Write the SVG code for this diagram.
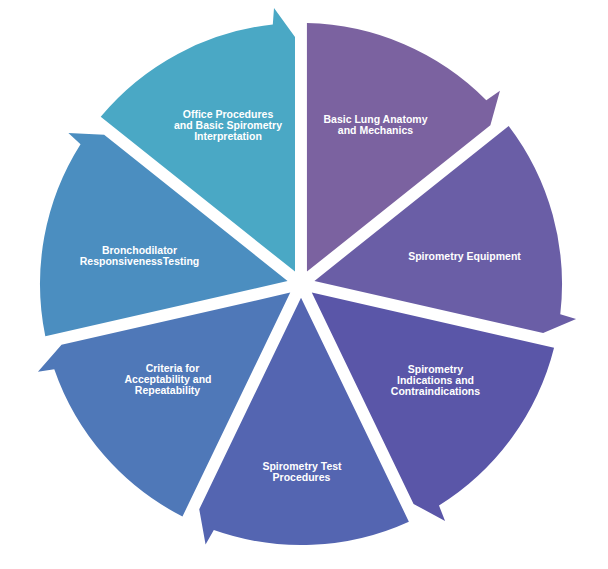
<svg xmlns="http://www.w3.org/2000/svg" width="608" height="569" viewBox="0 0 608 569">
  <style>
    .lbl { font-family: "Liberation Sans", Arial, sans-serif; font-weight: bold; font-size: 10.5px; fill: #ffffff; text-anchor: middle; }
  </style>
  <defs>
    <path id="wedge" d="M -200.3,-167.3 A 261 261 0 0 1 -28.2,-259.5 L -27,-276 L -6,-247 L -6,-12.4 Z"/>
  </defs>
  <rect width="608" height="569" fill="#ffffff"/>

  <g id="office">
    <use href="#wedge" transform="translate(301,284)" fill="#4aa8c5"/>
    <text class="lbl"><tspan x="228" y="118">Office Procedures</tspan><tspan x="228" y="129">and Basic Spirometry</tspan><tspan x="228" y="140">Interpretation</tspan></text>
  </g>
  <g id="lung">
    <use href="#wedge" transform="translate(301,284) rotate(51.4286)" fill="#7b62a0"/>
    <text class="lbl"><tspan x="375.5" y="123">Basic Lung Anatomy</tspan><tspan x="375.5" y="134">and Mechanics</tspan></text>
  </g>
  <g id="equipment">
    <use href="#wedge" transform="translate(301,284) rotate(102.857)" fill="#6a5ea6"/>
    <text class="lbl" x="464.5" y="259.5">Spirometry Equipment</text>
  </g>
  <g id="indications">
    <use href="#wedge" transform="translate(301,284) rotate(154.286)" fill="#5a56a8"/>
    <text class="lbl"><tspan x="435.5" y="372.5">Spirometry</tspan><tspan x="435.5" y="383.5">Indications and</tspan><tspan x="435.5" y="394.5">Contraindications</tspan></text>
  </g>
  <g id="test">
    <use href="#wedge" transform="translate(301,284) rotate(205.714)" fill="#5465b1"/>
    <text class="lbl"><tspan x="302" y="470">Spirometry Test</tspan><tspan x="301.5" y="481">Procedures</tspan></text>
  </g>
  <g id="criteria">
    <use href="#wedge" transform="translate(301,284) rotate(257.143)" fill="#4f78b8"/>
    <text class="lbl"><tspan x="172.5" y="372">Criteria for</tspan><tspan x="168" y="383">Acceptability and</tspan><tspan x="167.5" y="394">Repeatability</tspan></text>
  </g>
  <g id="bronchodilator">
    <use href="#wedge" transform="translate(301,284) rotate(308.571)" fill="#4b8ec0"/>
    <text class="lbl"><tspan x="139.5" y="254">Bronchodilator</tspan><tspan x="139.5" y="265">ResponsivenessTesting</tspan></text>
  </g>
</svg>
